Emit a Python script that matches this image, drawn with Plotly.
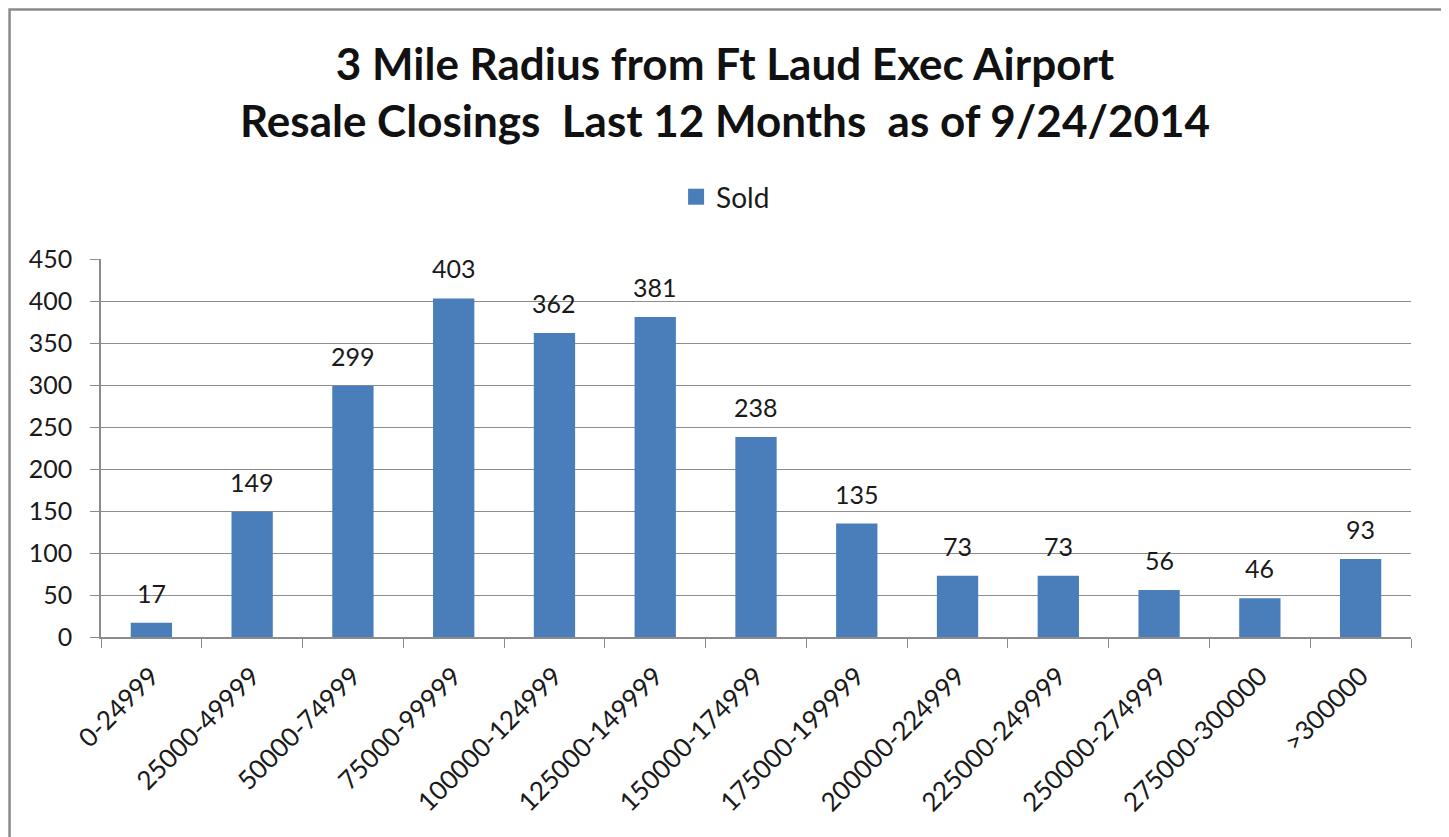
import plotly.graph_objects as go

categories = ["0-24999", "25000-49999", "50000-74999", "75000-99999", "100000-124999",
              "125000-149999", "150000-174999", "175000-199999", "200000-224999",
              "225000-249999", "250000-274999", "275000-300000", ">300000"]
sold = [17, 149, 299, 403, 362, 381, 238, 135, 73, 73, 56, 46, 93]
y_ticks = [0, 50, 100, 150, 200, 250, 300, 350, 400, 450]
title_lines = ["3 Mile Radius from Ft Laud Exec Airport",
               "Resale Closings  Last 12 Months  as of 9/24/2014"]

FONT = "Lato"
BAR = "#4a7ebb"
GRID = "#8c8c8c"
TXT = "#1a1a1a"

fig = go.Figure()
fig.add_trace(go.Bar(x=categories, y=sold, name="Sold", marker_color=BAR,
                     marker_line_width=0, showlegend=False))
# legend entry (larger square swatch, like the original)
fig.add_trace(go.Scatter(x=[None], y=[None], mode="markers", name="Sold",
                         marker=dict(symbol="square", size=17, color=BAR), showlegend=True))

for c, v in zip(categories, sold):
    fig.add_annotation(x=c, y=v, text=str(v), showarrow=False, yshift=30,
                       font=dict(family=FONT, size=25, color=TXT))

fig.add_annotation(xref="paper", yref="paper", x=0.476, y=1.444, xanchor="center", yanchor="middle",
                   text="<b>" + "<br>".join(title_lines) + "</b>", showarrow=False,
                   font=dict(family=FONT, size=44, color="#111"))

fig.update_layout(
    width=1441, height=829,
    margin=dict(l=93, r=38, t=251, b=200),
    paper_bgcolor="white", plot_bgcolor="white",
    bargap=0.59,
    legend=dict(orientation="h", x=0.439, xanchor="left", y=1.164, yanchor="middle",
                font=dict(family=FONT, size=28, color=TXT), itemwidth=30,
                bgcolor="rgba(0,0,0,0)"),
    font=dict(family=FONT, size=25, color=TXT),
)
fig.update_yaxes(range=[0, 450], tickvals=y_ticks, showgrid=True, gridcolor=GRID, gridwidth=1,
                 showline=True, linecolor=GRID, linewidth=1.5, ticks="outside", ticklen=9,
                 tickcolor=GRID, ticklabelstandoff=13,
                 tickfont=dict(family=FONT, size=25, color=TXT), zeroline=False)
fig.update_xaxes(showline=True, linecolor=GRID, linewidth=1.5, ticks="outside", ticklen=9,
                 tickcolor=GRID, tickson="boundaries", tickangle=-45,
                 ticklabelstandoff=12,
                 tickfont=dict(family=FONT, size=26, color=TXT), mirror=False)

fig.add_shape(type="rect", xref="paper", yref="paper", x0=-0.0698, x1=1.0252, y0=-0.6, y1=1.660,
              line=dict(color="#8a8a8a", width=2.5), fillcolor="rgba(0,0,0,0)", layer="below")

fig.write_html("out.html")
